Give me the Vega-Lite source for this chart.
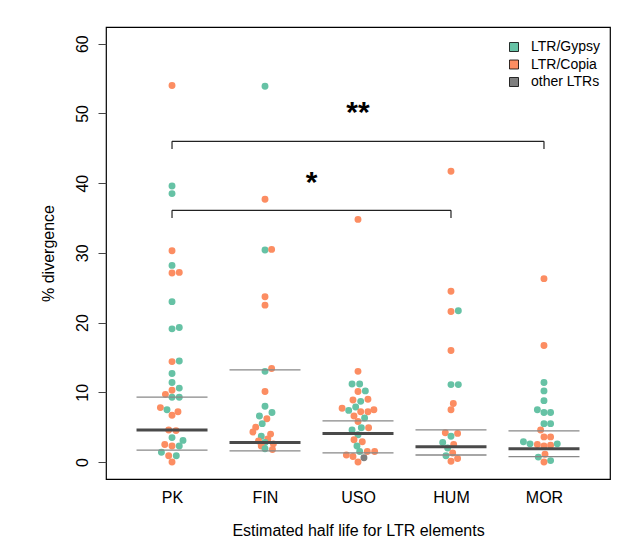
{
  "$schema": "https://vega.github.io/schema/vega-lite/v6.json",
  "width": 504,
  "height": 452,
  "autosize": {"type": "none"},
  "padding": {"left": 106, "top": 27, "right": 24, "bottom": 60},
  "background": "white",
  "config": {
    "font": "Liberation Sans",
    "view": {"stroke": "black", "strokeWidth": 1.2},
    "axis": {"grid": false, "domain": false, "labelColor": "black", "titleColor": "black", "labelFont": "Liberation Sans", "titleFont": "Liberation Sans", "labelFontSize": 16, "titleFontSize": 16, "titleFontWeight": "normal"}
  },
  "datasets": {
    "pts": [
      {"group": "PK", "pos": 1.0, "div": 54.0, "type": "LTR/Copia"},
      {"group": "PK", "pos": 1.0, "div": 39.6, "type": "LTR/Gypsy"},
      {"group": "PK", "pos": 1.0, "div": 38.5, "type": "LTR/Gypsy"},
      {"group": "PK", "pos": 1.0, "div": 30.3, "type": "LTR/Copia"},
      {"group": "PK", "pos": 1.0, "div": 28.2, "type": "LTR/Gypsy"},
      {"group": "PK", "pos": 1.0, "div": 27.1, "type": "LTR/Copia"},
      {"group": "PK", "pos": 1.078, "div": 27.2, "type": "LTR/Copia"},
      {"group": "PK", "pos": 1.0, "div": 23.0, "type": "LTR/Gypsy"},
      {"group": "PK", "pos": 1.0, "div": 19.1, "type": "LTR/Gypsy"},
      {"group": "PK", "pos": 1.078, "div": 19.3, "type": "LTR/Gypsy"},
      {"group": "PK", "pos": 1.0, "div": 14.4, "type": "LTR/Copia"},
      {"group": "PK", "pos": 1.078, "div": 14.5, "type": "LTR/Gypsy"},
      {"group": "PK", "pos": 1.0, "div": 12.7, "type": "LTR/Gypsy"},
      {"group": "PK", "pos": 1.0, "div": 11.4, "type": "LTR/Gypsy"},
      {"group": "PK", "pos": 1.078, "div": 10.6, "type": "LTR/Gypsy"},
      {"group": "PK", "pos": 1.0, "div": 10.3, "type": "LTR/Copia"},
      {"group": "PK", "pos": 0.929, "div": 9.7, "type": "LTR/Copia"},
      {"group": "PK", "pos": 1.0, "div": 9.3, "type": "LTR/Gypsy"},
      {"group": "PK", "pos": 1.078, "div": 9.3, "type": "LTR/Gypsy"},
      {"group": "PK", "pos": 0.875, "div": 7.8, "type": "LTR/Copia"},
      {"group": "PK", "pos": 0.946, "div": 7.5, "type": "LTR/Gypsy"},
      {"group": "PK", "pos": 1.064, "div": 7.2, "type": "LTR/Copia"},
      {"group": "PK", "pos": 1.0, "div": 6.7, "type": "LTR/Copia"},
      {"group": "PK", "pos": 0.964, "div": 4.6, "type": "LTR/Copia"},
      {"group": "PK", "pos": 1.043, "div": 4.5, "type": "LTR/Copia"},
      {"group": "PK", "pos": 1.0, "div": 3.5, "type": "LTR/Gypsy"},
      {"group": "PK", "pos": 1.118, "div": 3.1, "type": "LTR/Gypsy"},
      {"group": "PK", "pos": 0.922, "div": 2.5, "type": "LTR/Copia"},
      {"group": "PK", "pos": 1.0, "div": 2.3, "type": "LTR/Copia"},
      {"group": "PK", "pos": 1.078, "div": 2.3, "type": "LTR/Gypsy"},
      {"group": "PK", "pos": 0.886, "div": 1.4, "type": "LTR/Gypsy"},
      {"group": "PK", "pos": 0.964, "div": 0.9, "type": "LTR/Copia"},
      {"group": "PK", "pos": 1.046, "div": 0.9, "type": "LTR/Gypsy"},
      {"group": "PK", "pos": 1.0, "div": 0.0, "type": "LTR/Copia"},

      {"group": "FIN", "pos": 2.0, "div": 53.9, "type": "LTR/Gypsy"},
      {"group": "FIN", "pos": 2.0, "div": 37.7, "type": "LTR/Copia"},
      {"group": "FIN", "pos": 2.0, "div": 30.4, "type": "LTR/Gypsy"},
      {"group": "FIN", "pos": 2.071, "div": 30.5, "type": "LTR/Copia"},
      {"group": "FIN", "pos": 2.0, "div": 23.7, "type": "LTR/Copia"},
      {"group": "FIN", "pos": 2.0, "div": 22.5, "type": "LTR/Copia"},
      {"group": "FIN", "pos": 2.071, "div": 13.4, "type": "LTR/Copia"},
      {"group": "FIN", "pos": 2.0, "div": 13.0, "type": "LTR/Gypsy"},
      {"group": "FIN", "pos": 2.0, "div": 10.1, "type": "LTR/Copia"},
      {"group": "FIN", "pos": 2.0, "div": 8.0, "type": "LTR/Gypsy"},
      {"group": "FIN", "pos": 2.075, "div": 7.1, "type": "LTR/Gypsy"},
      {"group": "FIN", "pos": 1.94, "div": 6.6, "type": "LTR/Gypsy"},
      {"group": "FIN", "pos": 2.02, "div": 6.2, "type": "LTR/Copia"},
      {"group": "FIN", "pos": 1.97, "div": 5.5, "type": "LTR/Gypsy"},
      {"group": "FIN", "pos": 1.9, "div": 5.0, "type": "LTR/Copia"},
      {"group": "FIN", "pos": 1.87, "div": 4.3, "type": "LTR/Copia"},
      {"group": "FIN", "pos": 2.06, "div": 4.0, "type": "LTR/Copia"},
      {"group": "FIN", "pos": 1.96, "div": 3.7, "type": "LTR/Gypsy"},
      {"group": "FIN", "pos": 2.03, "div": 3.3, "type": "LTR/Copia"},
      {"group": "FIN", "pos": 1.93, "div": 3.0, "type": "LTR/Copia"},
      {"group": "FIN", "pos": 2.0, "div": 2.8, "type": "LTR/Gypsy"},
      {"group": "FIN", "pos": 2.09, "div": 2.6, "type": "LTR/Copia"},
      {"group": "FIN", "pos": 1.96, "div": 2.3, "type": "LTR/Copia"},
      {"group": "FIN", "pos": 2.0, "div": 1.9, "type": "LTR/Gypsy"},
      {"group": "FIN", "pos": 2.08, "div": 1.8, "type": "LTR/Copia"},

      {"group": "USO", "pos": 3.0, "div": 34.8, "type": "LTR/Copia"},
      {"group": "USO", "pos": 3.0, "div": 13.0, "type": "LTR/Copia"},
      {"group": "USO", "pos": 2.936, "div": 11.2, "type": "LTR/Gypsy"},
      {"group": "USO", "pos": 3.018, "div": 11.2, "type": "LTR/Gypsy"},
      {"group": "USO", "pos": 3.0, "div": 10.1, "type": "LTR/Copia"},
      {"group": "USO", "pos": 3.079, "div": 10.2, "type": "LTR/Gypsy"},
      {"group": "USO", "pos": 2.946, "div": 8.9, "type": "LTR/Copia"},
      {"group": "USO", "pos": 3.029, "div": 8.7, "type": "LTR/Gypsy"},
      {"group": "USO", "pos": 3.107, "div": 9.0, "type": "LTR/Copia"},
      {"group": "USO", "pos": 2.829, "div": 7.7, "type": "LTR/Copia"},
      {"group": "USO", "pos": 2.9, "div": 7.4, "type": "LTR/Gypsy"},
      {"group": "USO", "pos": 2.975, "div": 7.9, "type": "LTR/Gypsy"},
      {"group": "USO", "pos": 3.029, "div": 7.2, "type": "LTR/Copia"},
      {"group": "USO", "pos": 3.107, "div": 7.2, "type": "LTR/Copia"},
      {"group": "USO", "pos": 3.171, "div": 7.5, "type": "LTR/Copia"},
      {"group": "USO", "pos": 2.957, "div": 6.6, "type": "LTR/Copia"},
      {"group": "USO", "pos": 3.071, "div": 6.3, "type": "LTR/Gypsy"},
      {"group": "USO", "pos": 3.0, "div": 5.8, "type": "LTR/Copia"},
      {"group": "USO", "pos": 2.936, "div": 4.6, "type": "LTR/Gypsy"},
      {"group": "USO", "pos": 3.036, "div": 4.9, "type": "LTR/Gypsy"},
      {"group": "USO", "pos": 3.114, "div": 4.9, "type": "LTR/Copia"},
      {"group": "USO", "pos": 3.0, "div": 3.9, "type": "LTR/Gypsy"},
      {"group": "USO", "pos": 2.957, "div": 3.2, "type": "LTR/Copia"},
      {"group": "USO", "pos": 3.046, "div": 2.9, "type": "LTR/Copia"},
      {"group": "USO", "pos": 2.989, "div": 2.3, "type": "LTR/Gypsy"},
      {"group": "USO", "pos": 3.018, "div": 1.5, "type": "LTR/Gypsy"},
      {"group": "USO", "pos": 3.1, "div": 1.5, "type": "LTR/Copia"},
      {"group": "USO", "pos": 3.179, "div": 1.5, "type": "LTR/Copia"},
      {"group": "USO", "pos": 2.875, "div": 1.0, "type": "LTR/Copia"},
      {"group": "USO", "pos": 2.946, "div": 0.8, "type": "LTR/Copia"},
      {"group": "USO", "pos": 3.064, "div": 0.6, "type": "other LTRs"},
      {"group": "USO", "pos": 3.0, "div": 0.0, "type": "LTR/Copia"},

      {"group": "HUM", "pos": 4.0, "div": 41.7, "type": "LTR/Copia"},
      {"group": "HUM", "pos": 4.0, "div": 24.5, "type": "LTR/Copia"},
      {"group": "HUM", "pos": 4.0, "div": 21.6, "type": "LTR/Copia"},
      {"group": "HUM", "pos": 4.079, "div": 21.7, "type": "LTR/Gypsy"},
      {"group": "HUM", "pos": 4.0, "div": 16.0, "type": "LTR/Copia"},
      {"group": "HUM", "pos": 4.0, "div": 11.1, "type": "LTR/Gypsy"},
      {"group": "HUM", "pos": 4.079, "div": 11.1, "type": "LTR/Gypsy"},
      {"group": "HUM", "pos": 4.025, "div": 8.4, "type": "LTR/Copia"},
      {"group": "HUM", "pos": 4.0, "div": 7.5, "type": "LTR/Copia"},
      {"group": "HUM", "pos": 3.939, "div": 4.2, "type": "LTR/Copia"},
      {"group": "HUM", "pos": 4.071, "div": 4.1, "type": "LTR/Copia"},
      {"group": "HUM", "pos": 4.0, "div": 3.7, "type": "LTR/Gypsy"},
      {"group": "HUM", "pos": 3.911, "div": 2.8, "type": "LTR/Gypsy"},
      {"group": "HUM", "pos": 4.029, "div": 2.5, "type": "LTR/Copia"},
      {"group": "HUM", "pos": 3.964, "div": 2.0, "type": "LTR/Gypsy"},
      {"group": "HUM", "pos": 4.018, "div": 1.3, "type": "LTR/Copia"},
      {"group": "HUM", "pos": 3.946, "div": 0.9, "type": "LTR/Gypsy"},
      {"group": "HUM", "pos": 4.0, "div": 0.1, "type": "LTR/Copia"},
      {"group": "HUM", "pos": 4.071, "div": 0.5, "type": "LTR/Copia"},

      {"group": "MOR", "pos": 5.0, "div": 26.3, "type": "LTR/Copia"},
      {"group": "MOR", "pos": 5.0, "div": 16.7, "type": "LTR/Copia"},
      {"group": "MOR", "pos": 5.0, "div": 11.4, "type": "LTR/Gypsy"},
      {"group": "MOR", "pos": 5.0, "div": 10.2, "type": "LTR/Gypsy"},
      {"group": "MOR", "pos": 5.0, "div": 8.8, "type": "LTR/Gypsy"},
      {"group": "MOR", "pos": 4.929, "div": 7.5, "type": "LTR/Gypsy"},
      {"group": "MOR", "pos": 5.0, "div": 7.1, "type": "LTR/Gypsy"},
      {"group": "MOR", "pos": 5.071, "div": 7.1, "type": "LTR/Gypsy"},
      {"group": "MOR", "pos": 5.0, "div": 5.5, "type": "LTR/Gypsy"},
      {"group": "MOR", "pos": 5.071, "div": 5.5, "type": "LTR/Gypsy"},
      {"group": "MOR", "pos": 4.964, "div": 4.6, "type": "LTR/Copia"},
      {"group": "MOR", "pos": 5.0, "div": 3.6, "type": "LTR/Copia"},
      {"group": "MOR", "pos": 5.071, "div": 3.6, "type": "LTR/Copia"},
      {"group": "MOR", "pos": 4.779, "div": 2.9, "type": "LTR/Gypsy"},
      {"group": "MOR", "pos": 4.85, "div": 2.6, "type": "LTR/Gypsy"},
      {"group": "MOR", "pos": 4.929, "div": 2.5, "type": "LTR/Copia"},
      {"group": "MOR", "pos": 5.0, "div": 2.3, "type": "LTR/Copia"},
      {"group": "MOR", "pos": 5.071, "div": 2.4, "type": "LTR/Copia"},
      {"group": "MOR", "pos": 5.143, "div": 2.6, "type": "LTR/Gypsy"},
      {"group": "MOR", "pos": 5.011, "div": 1.1, "type": "LTR/Copia"},
      {"group": "MOR", "pos": 4.939, "div": 0.7, "type": "LTR/Gypsy"},
      {"group": "MOR", "pos": 5.071, "div": 0.2, "type": "LTR/Gypsy"},
      {"group": "MOR", "pos": 5.0, "div": 0.0, "type": "LTR/Copia"}
    ],
    "stats": [
      {"group": "PK", "pos": 1, "stat": "q3", "value": 9.3},
      {"group": "PK", "pos": 1, "stat": "median", "value": 4.6},
      {"group": "PK", "pos": 1, "stat": "q1", "value": 1.7},
      {"group": "FIN", "pos": 2, "stat": "q3", "value": 13.2},
      {"group": "FIN", "pos": 2, "stat": "median", "value": 2.8},
      {"group": "FIN", "pos": 2, "stat": "q1", "value": 1.6},
      {"group": "USO", "pos": 3, "stat": "q3", "value": 5.9},
      {"group": "USO", "pos": 3, "stat": "median", "value": 4.1},
      {"group": "USO", "pos": 3, "stat": "q1", "value": 1.3},
      {"group": "HUM", "pos": 4, "stat": "q3", "value": 4.6},
      {"group": "HUM", "pos": 4, "stat": "median", "value": 2.2},
      {"group": "HUM", "pos": 4, "stat": "q1", "value": 1.0},
      {"group": "MOR", "pos": 5, "stat": "q3", "value": 4.45},
      {"group": "MOR", "pos": 5, "stat": "median", "value": 1.9},
      {"group": "MOR", "pos": 5, "stat": "q1", "value": 0.76}
    ],
    "brackets": [
      {"from": 1, "to": 5, "y": 46.0, "yEnd": 44.9},
      {"from": 1, "to": 4, "y": 36.1, "yEnd": 35.0}
    ],
    "stars": [
      {"pos": 3.0, "y": 48.8, "label": "**"},
      {"pos": 2.5, "y": 38.8, "label": "*"}
    ]
  },
  "layer": [
    {
      "data": {"name": "pts"},
      "mark": {"type": "circle", "size": 48, "opacity": 1},
      "encoding": {
        "x": {
          "field": "pos", "type": "quantitative",
          "scale": {"domain": [0.29, 5.71], "nice": false, "zero": false},
          "axis": {
            "values": [1, 2, 3, 4, 5],
            "labelExpr": "['', 'PK', 'FIN', 'USO', 'HUM', 'MOR'][datum.value]",
            "ticks": false, "labelPadding": 10, "labelFlush": false,
            "title": "Estimated half life for LTR elements", "titlePadding": 17
          }
        },
        "y": {
          "field": "div", "type": "quantitative",
          "scale": {"domain": [-2.44, 62.4], "nice": false, "zero": false},
          "axis": {
            "values": [0, 10, 20, 30, 40, 50, 60],
            "labelAngle": 270, "labelAlign": "center", "labelBaseline": "alphabetic",
            "tickSize": 8, "tickColor": "#444", "tickWidth": 1, "labelPadding": 11,
            "title": "% divergence", "titlePadding": 18
          }
        },
        "color": {
          "field": "type", "type": "nominal",
          "scale": {"domain": ["LTR/Gypsy", "LTR/Copia", "other LTRs"], "range": ["#66C2A5", "#FC8D62", "#7F7F7F"]},
          "legend": {
            "title": null, "orient": "none", "legendX": 401, "legendY": 13,
            "symbolType": "square", "symbolSize": 81, "symbolStrokeColor": "black", "symbolStrokeWidth": 0.8, "symbolOpacity": 1,
            "labelFont": "Liberation Sans", "labelFontSize": 14, "labelColor": "black", "labelOffset": 10, "rowPadding": 3.5, "padding": 0
          }
        }
      }
    },
    {
      "data": {"name": "stats"},
      "transform": [{"filter": "datum.stat !== 'median'"}],
      "mark": {"type": "tick", "orient": "horizontal", "size": 71, "thickness": 1.3, "color": "#888888", "opacity": 1},
      "encoding": {
        "x": {"field": "pos", "type": "quantitative"},
        "y": {"field": "value", "type": "quantitative"}
      }
    },
    {
      "data": {"name": "stats"},
      "transform": [{"filter": "datum.stat === 'median'"}],
      "mark": {"type": "tick", "orient": "horizontal", "size": 71, "thickness": 3, "color": "#4a4a4a", "opacity": 1},
      "encoding": {
        "x": {"field": "pos", "type": "quantitative"},
        "y": {"field": "value", "type": "quantitative"}
      }
    },
    {
      "data": {"name": "brackets"},
      "mark": {"type": "rule", "color": "#222", "strokeWidth": 1.2},
      "encoding": {
        "x": {"field": "from", "type": "quantitative"},
        "x2": {"field": "to"},
        "y": {"field": "y", "type": "quantitative"}
      }
    },
    {
      "data": {"name": "brackets"},
      "mark": {"type": "rule", "color": "#222", "strokeWidth": 1.2},
      "encoding": {
        "x": {"field": "from", "type": "quantitative"},
        "y": {"field": "y", "type": "quantitative"},
        "y2": {"field": "yEnd"}
      }
    },
    {
      "data": {"name": "brackets"},
      "mark": {"type": "rule", "color": "#222", "strokeWidth": 1.2},
      "encoding": {
        "x": {"field": "to", "type": "quantitative"},
        "y": {"field": "y", "type": "quantitative"},
        "y2": {"field": "yEnd"}
      }
    },
    {
      "data": {"name": "stars"},
      "mark": {"type": "text", "font": "Liberation Sans", "fontSize": 30, "fontWeight": "bold", "baseline": "alphabetic", "align": "center", "color": "black"},
      "encoding": {
        "x": {"field": "pos", "type": "quantitative"},
        "y": {"field": "y", "type": "quantitative"},
        "text": {"field": "label"}
      }
    }
  ]
}
